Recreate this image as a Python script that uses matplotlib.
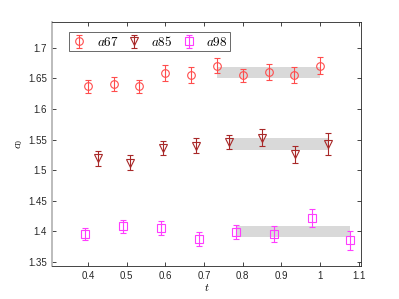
import matplotlib
matplotlib.use('Agg')
import matplotlib.pyplot as plt
import numpy as np

plt.rcParams.update({
    'font.family': ['Liberation Sans', 'DejaVu Sans'],
    'font.size': 7,
    'mathtext.fontset': 'cm',
    'xtick.direction': 'in',
    'ytick.direction': 'in',
    'xtick.top': True,
    'ytick.right': True,
})

# a67 series
t_a67 = [0.400, 0.467, 0.533, 0.600, 0.667, 0.733, 0.800, 0.867, 0.933, 1.000]
c_a67 = [1.637, 1.641, 1.637, 1.659, 1.655, 1.671, 1.655, 1.660, 1.655, 1.671]
e_a67 = [0.011, 0.011, 0.011, 0.013, 0.013, 0.012, 0.011, 0.013, 0.013, 0.014]

# a85 series
t_a85 = [0.425, 0.510, 0.595, 0.680, 0.765, 0.850, 0.935, 1.020]
c_a85 = [1.519, 1.512, 1.536, 1.540, 1.546, 1.553, 1.526, 1.543]
e_a85 = [0.012, 0.012, 0.012, 0.012, 0.012, 0.014, 0.014, 0.018]

# a98 series
t_a98 = [0.392, 0.490, 0.588, 0.686, 0.784, 0.882, 0.980, 1.078]
c_a98 = [1.396, 1.408, 1.405, 1.387, 1.399, 1.396, 1.422, 1.385]
e_a98 = [0.010, 0.011, 0.011, 0.011, 0.011, 0.013, 0.015, 0.015]

# plateau fits: (t_start, t_end, centre, half width)
fit_a67 = (0.733, 1.000, 1.659, 0.009)
fit_a85 = (0.765, 1.020, 1.543, 0.010)
fit_a98 = (0.784, 1.078, 1.399, 0.009)

series = [
    ('$a67$', t_a67, c_a67, e_a67, fit_a67, 'o', '#ff4d4d'),
    ('$a85$', t_a85, c_a85, e_a85, fit_a85, 'v', '#a82828'),
    ('$a98$', t_a98, c_a98, e_a98, fit_a98, 's', '#ff3dff'),
]

fig = plt.figure(figsize=(3.99, 2.99), dpi=100)
ax = fig.add_axes([0.130, 0.110, 0.775, 0.816])

for label, t, c, e, fit, mk, col in series:
    t0, t1, mid, hw = fit
    ax.fill_between([t0, t1], mid - hw, mid + hw, color='#d9d9d9', lw=0, zorder=1)
    ax.errorbar(t, c, yerr=e, fmt=mk, mfc='none', mec=col, color=col,
                ms=5.5, mew=0.8, elinewidth=0.8, capsize=2.5, capthick=0.8,
                label=label, zorder=3)

ax.set_xlim(0.307, 1.106)
ax.set_ylim(1.343, 1.742)
ax.set_xticks([0.4, 0.5, 0.6, 0.7, 0.8, 0.9, 1.0, 1.1])
ax.set_xticklabels(['0.4', '0.5', '0.6', '0.7', '0.8', '0.9', '1', '1.1'])
ax.set_yticks([1.35, 1.4, 1.45, 1.5, 1.55, 1.6, 1.65, 1.7])
ax.set_yticklabels(['1.35', '1.4', '1.45', '1.5', '1.55', '1.6', '1.65', '1.7'])
ax.tick_params(length=3, width=0.6, colors='#262626', labelcolor='#262626')
for s in ax.spines.values():
    s.set_color('#262626')
    s.set_linewidth(0.6)
ax.spines['left'].set_color('#b0b0b0')
ax.spines['left'].set_linewidth(1.2)

ax.set_xlabel('$t$', fontsize=8, labelpad=1)
ax.set_ylabel('$c_0$', fontsize=8, labelpad=2)

leg = ax.legend(loc='upper left', bbox_to_anchor=(0.055, 0.959), ncol=3,
                fontsize=9.5, frameon=True, fancybox=False, edgecolor='#262626',
                borderpad=0.2, borderaxespad=0, handletextpad=0.7,
                columnspacing=0.6, handlelength=1.2)
leg.get_frame().set_linewidth(0.6)

fig.savefig('out.png', dpi=100)
